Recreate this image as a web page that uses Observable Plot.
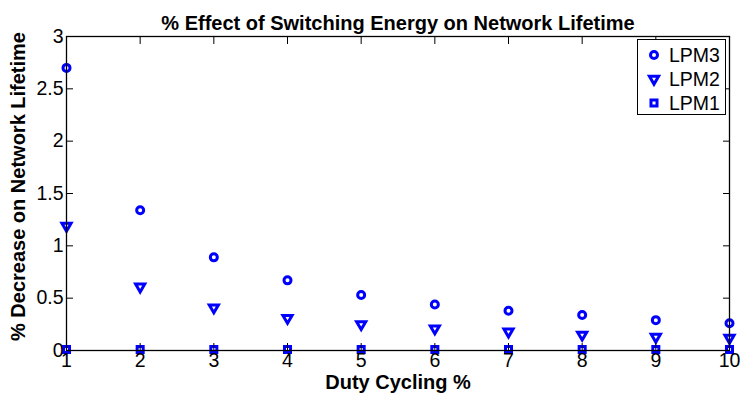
<!DOCTYPE html>
<html>
<head>
<meta charset="utf-8">
<script src="https://cdn.jsdelivr.net/npm/d3@7"></script>
<script src="https://cdn.jsdelivr.net/npm/@observablehq/plot@0.6"></script>
<style>
  html, body { margin: 0; padding: 0; background: white; }
  #wrap { position: relative; width: 741px; height: 401px; font-family: "Liberation Sans", Arial, sans-serif; }
  #legend { position: absolute; left: 637px; top: 39px; width: 87px; height: 74px; border: 1px solid black; background: white; }
  .entry { position: absolute; left: 0; height: 24px; display: flex; align-items: center; }
  .entry svg { position: absolute; left: 7px; }
  .entry span { position: absolute; left: 31px; font-size: 19.5px; color: black; white-space: nowrap; line-height: 24px; }
</style>
</head>
<body>
<div id="wrap"></div>
<script>
// ---- data ----
const dutyCycling = [1, 2, 3, 4, 5, 6, 7, 8, 9, 10];
const lpm3 = [2.70, 1.34, 0.89, 0.67, 0.53, 0.44, 0.38, 0.34, 0.29, 0.26];
const lpm2 = [1.19, 0.61, 0.41, 0.31, 0.25, 0.21, 0.18, 0.15, 0.13, 0.12];
const lpm1 = [0.01, 0.01, 0.01, 0.01, 0.01, 0.01, 0.01, 0.01, 0.01, 0.01];
const xTicks = [1, 2, 3, 4, 5, 6, 7, 8, 9, 10];
const yTicks = [0, 0.5, 1, 1.5, 2, 2.5, 3];
const seriesNames = ["LPM3", "LPM2", "LPM1"];
const titleText = "% Effect of Switching Energy on Network Lifetime";
const xLabel = "Duty Cycling %";
const yLabel = "% Decrease on Network Lifetime";

const blue = "#0000ff";
const rows = (ys) => dutyCycling.map((x, i) => ({x, y: ys[i]}));
const sw = 3;

const plot = Plot.plot({
  width: 741,
  height: 401,
  marginTop: 36,
  marginRight: 12,
  marginBottom: 51,
  marginLeft: 66,
  style: {fontFamily: "'Liberation Sans', Arial, sans-serif", fontSize: "19.5px", color: "black", background: "white"},
  x: {domain: [1, 10]},
  y: {domain: [0, 3]},
  marks: [
    Plot.dot(rows(lpm3), {x: "x", y: "y", symbol: "circle", r: 3.5, stroke: blue, strokeWidth: sw, fill: "none"}),
    Plot.dot(rows(lpm2), {x: "x", y: "y", symbol: "triangle", rotate: 180, r: 3.4, stroke: blue, strokeWidth: sw, fill: "none"}),
    Plot.dot(rows(lpm1), {x: "x", y: "y", symbol: "square", r: 3.4, stroke: blue, strokeWidth: sw, fill: "none"}),
    // inward ticks on all four sides
    Plot.axisX({ticks: xTicks, anchor: "bottom", tickSize: -7, tickFormat: () => "", label: null, stroke: "black"}),
    Plot.axisX({ticks: xTicks, anchor: "top", tickSize: -7, tickFormat: () => "", label: null, stroke: "black"}),
    Plot.axisY({ticks: yTicks, anchor: "left", tickSize: -7, tickFormat: () => "", label: null, stroke: "black"}),
    Plot.axisY({ticks: yTicks, anchor: "right", tickSize: -7, tickFormat: () => "", label: null, stroke: "black"}),
    // tick labels
    Plot.axisX({ticks: xTicks, anchor: "bottom", tickSize: 0, tickPadding: 3, tickFormat: d => String(d), label: null, fill: "black"}),
    Plot.axisY({ticks: yTicks, anchor: "left", tickSize: 0, tickPadding: 3, tickFormat: d => String(d), label: null, fill: "black"}),
    Plot.frame({stroke: "black", strokeWidth: 1.3}),
    // title and axis labels
    Plot.text([titleText], {frameAnchor: "top", dy: -21, fontWeight: "bold", fontSize: 20, fill: "black"}),
    Plot.text([xLabel], {frameAnchor: "bottom", dy: 38, fontWeight: "bold", fontSize: 20, fill: "black"}),
    Plot.text([yLabel], {frameAnchor: "left", textAnchor: "middle", dx: -48, dy: -7, rotate: -90, fontWeight: "bold", fontSize: 20, fill: "black"})
  ]
});

const wrap = document.getElementById("wrap");
wrap.appendChild(plot);

// legend
const legend = document.createElement("div");
legend.id = "legend";
const symbols = [
  {sym: d3.symbolCircle, r: 3.5, rot: 0},
  {sym: d3.symbolTriangle, r: 3.4, rot: 180},
  {sym: d3.symbolSquare, r: 3.4, rot: 0}
];
seriesNames.forEach((name, i) => {
  const e = document.createElement("div");
  e.className = "entry";
  e.style.top = (3 + i * 24) + "px";
  const s = symbols[i];
  const path = d3.symbol(s.sym, Math.PI * s.r * s.r)();
  e.innerHTML = `<svg width="18" height="24" viewBox="-9 -12 18 24"><path d="${path}" transform="rotate(${s.rot})" fill="none" stroke="${blue}" stroke-width="${sw}"/></svg><span>${name}</span>`;
  legend.appendChild(e);
});
wrap.appendChild(legend);
</script>
</body>
</html>
